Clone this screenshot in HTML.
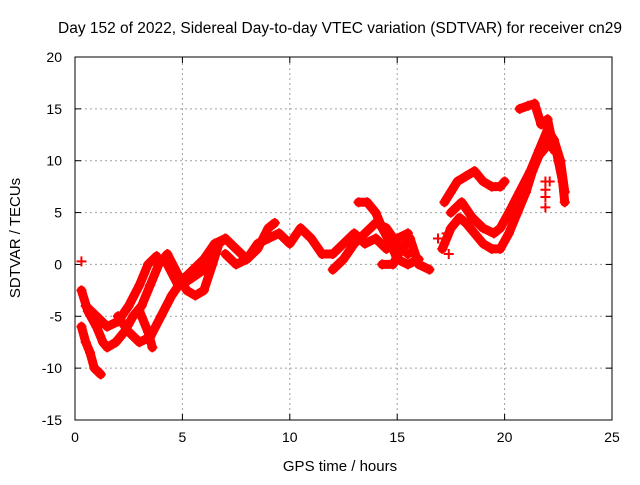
<!DOCTYPE html>
<html><head><meta charset="utf-8"><style>
body{margin:0;background:#fff;font-family:"Liberation Sans",sans-serif}
svg text{font-family:"Liberation Sans",sans-serif;font-size:14px;fill:#000}
</style></head><body>
<svg width="640" height="480" xmlns="http://www.w3.org/2000/svg">
<text x="340" y="33" text-anchor="middle" style="font-size:15.5px">Day 152 of 2022, Sidereal Day-to-day VTEC variation (SDTVAR) for receiver cn29</text>
<g id="grid"></g>
<g id="axes"></g>
<g id="series"></g>
<text x="340" y="471" text-anchor="middle" style="font-size:15px">GPS time / hours</text>
<text transform="translate(20,238) rotate(-90)" text-anchor="middle" style="font-size:15px">SDTVAR / TECUs</text>
</svg>
<script>
const xTicks=[0,5,10,15,20,25];
const yTicks=[-15,-10,-5,0,5,10,15,20];
const trackA=[[0.3,-6],[0.5,-7.5],[0.7,-8.5],[0.9,-10],[1.2,-10.6]];
const trackB=[[0.3,-2.5],[0.6,-4.5],[1,-6],[1.3,-7.5],[1.5,-8],[1.9,-7.5],[2.3,-6.5],[2.7,-5],[3.1,-4],[3.5,-2],[3.9,0],[4.3,1],[4.8,-1],[5.2,-2.5],[5.6,-3],[6,-2.5],[6.4,0],[6.7,2],[7,2.5],[7.5,1.5],[8,0.5],[8.5,1.5],[9,3.5],[9.3,4]];
const trackC=[[0.5,-4],[1,-5],[1.5,-6],[2,-5.5],[2.5,-4],[3,-2],[3.4,0],[3.8,0.8]];
const trackD=[[2,-5],[2.5,-6.5],[3,-7.5],[3.5,-7],[4,-5],[4.5,-3],[5,-1.5],[5.5,-0.5],[6,0.5],[6.5,2],[7,2.5]];
const trackE=[[3,-4.5],[3.4,-6.5],[3.6,-8]];
const trackF=[[4.3,0],[4.8,-2],[5.3,-1.5],[6,-0.5],[6.5,1.5]];
const trackG=[[7,1],[7.5,0],[8,0.5],[8.5,2],[9,2.5],[9.5,3],[10,2],[10.5,3.5],[11,2.5],[11.5,1],[12,1],[12.5,2],[13,3],[13.5,2],[14,2.5],[14.5,1.5],[15,2.5],[15.5,3]];
const trackH=[[12,-0.5],[12.5,0.5],[13,2],[13.5,3],[14,4],[14.5,3.5],[15,2],[15.5,1]];
const trackI=[[13.2,6],[13.6,6],[14,5],[14.3,3.5],[14.7,2],[15,0.5],[15.5,0],[16,0.5]];
const trackJ=[[14.3,0],[14.8,0],[15.2,1.5],[15.6,2.5],[16,0],[16.5,-0.5]];
const trackL=[[17.2,6],[17.5,7],[17.8,8],[18.2,8.5],[18.6,9],[19,8],[19.4,7.5],[19.8,7.5],[20,8]];
const trackM=[[17.1,1.5],[17.2,2],[17.5,3.5],[17.9,4.5],[18.2,4],[18.6,3],[19,2],[19.4,1.5],[19.8,1.5],[20.2,3],[20.6,5],[21,7],[21.3,9],[21.6,10.5],[22,11.5],[22.3,12],[22.6,10],[22.8,7]];
const trackN=[[17.5,5],[18,6],[18.5,4.5],[19,3.5],[19.5,3],[19.8,3.5],[20.2,5],[20.7,7],[21.2,9],[21.6,11],[22,13],[22.3,12],[22.5,10],[22.7,8],[22.8,6]];
const trackO=[[20.7,15],[21.1,15.3],[21.4,15.5],[21.7,13.5],[22,14],[22.3,11]];
const trackP=[[21.9,8],[21.9,6.5],[21.9,5.5],[0.3,0.3],[17.3,3],[17.4,1],[16.9,2.5],[21.9,7.2],[22.1,8]];
const tracks=[trackA,trackB,trackC,trackD,trackE,trackF,trackG,trackH,trackI,trackJ,trackL,trackM,trackN,trackO,trackP];
const X0=75,X1=612,Y0=420,Y1=57;
const sx=h=>X0+(h-0)/(25-0)*(X1-X0);
const sy=v=>Y0-(v+15)/(35)*(Y0-Y1);
const NS="http://www.w3.org/2000/svg";
function mk(t,a,p){const e=document.createElementNS(NS,t);for(const k in a)e.setAttribute(k,a[k]);p.appendChild(e);return e;}
const grid=document.getElementById('grid'),axes=document.getElementById('axes'),ser=document.getElementById('series');
xTicks.forEach(t=>{const x=sx(t);
 if(t>0&&t<25){const l=mk('line',{x1:x,y1:Y0,x2:x,y2:Y1,stroke:'#a0a0a0','stroke-dasharray':'2,3'},grid);
 
 }
 mk('line',{x1:x,y1:Y0,x2:x,y2:Y0-6,stroke:'#000'},axes);mk('line',{x1:x,y1:Y1,x2:x,y2:Y1+6,stroke:'#000'},axes);
 const tx=mk('text',{x:x,y:Y0+22,'text-anchor':'middle'},axes);tx.textContent=t;
 
 });
yTicks.forEach(t=>{const y=sy(t);
 if(t>-15&&t<20){const l=mk('line',{x1:X0,y1:y,x2:X1,y2:y,stroke:'#a0a0a0','stroke-dasharray':'2,3'},grid);
 
 }
 mk('line',{x1:X0,y1:y,x2:X0+6,y2:y,stroke:'#000'},axes);mk('line',{x1:X1,y1:y,x2:X1-6,y2:y,stroke:'#000'},axes);
 const tx=mk('text',{x:X0-13,y:y+5,'text-anchor':'end'},axes);tx.textContent=t;
 
 });
mk('rect',{x:X0,y:Y1,width:X1-X0,height:Y0-Y1,fill:'none',stroke:'#000'},axes);
tracks.forEach((tr,i)=>{
 if(tr.length>1&&i<14){const pl=mk('polyline',{points:tr.map(p=>sx(p[0])+','+sy(p[1])).join(' '),fill:'none',stroke:'#ff0000','stroke-width':9,'stroke-linejoin':'round','stroke-linecap':'round'},ser);
 
 }
 tr.forEach(p=>{const x=sx(p[0]),y=sy(p[1]);
  const m=mk('path',{d:`M${x-5},${y}H${x+5}M${x},${y-5}V${y+5}`,stroke:'#ff0000','stroke-width':2},ser);
  
  });
});
</script>
</body></html>
